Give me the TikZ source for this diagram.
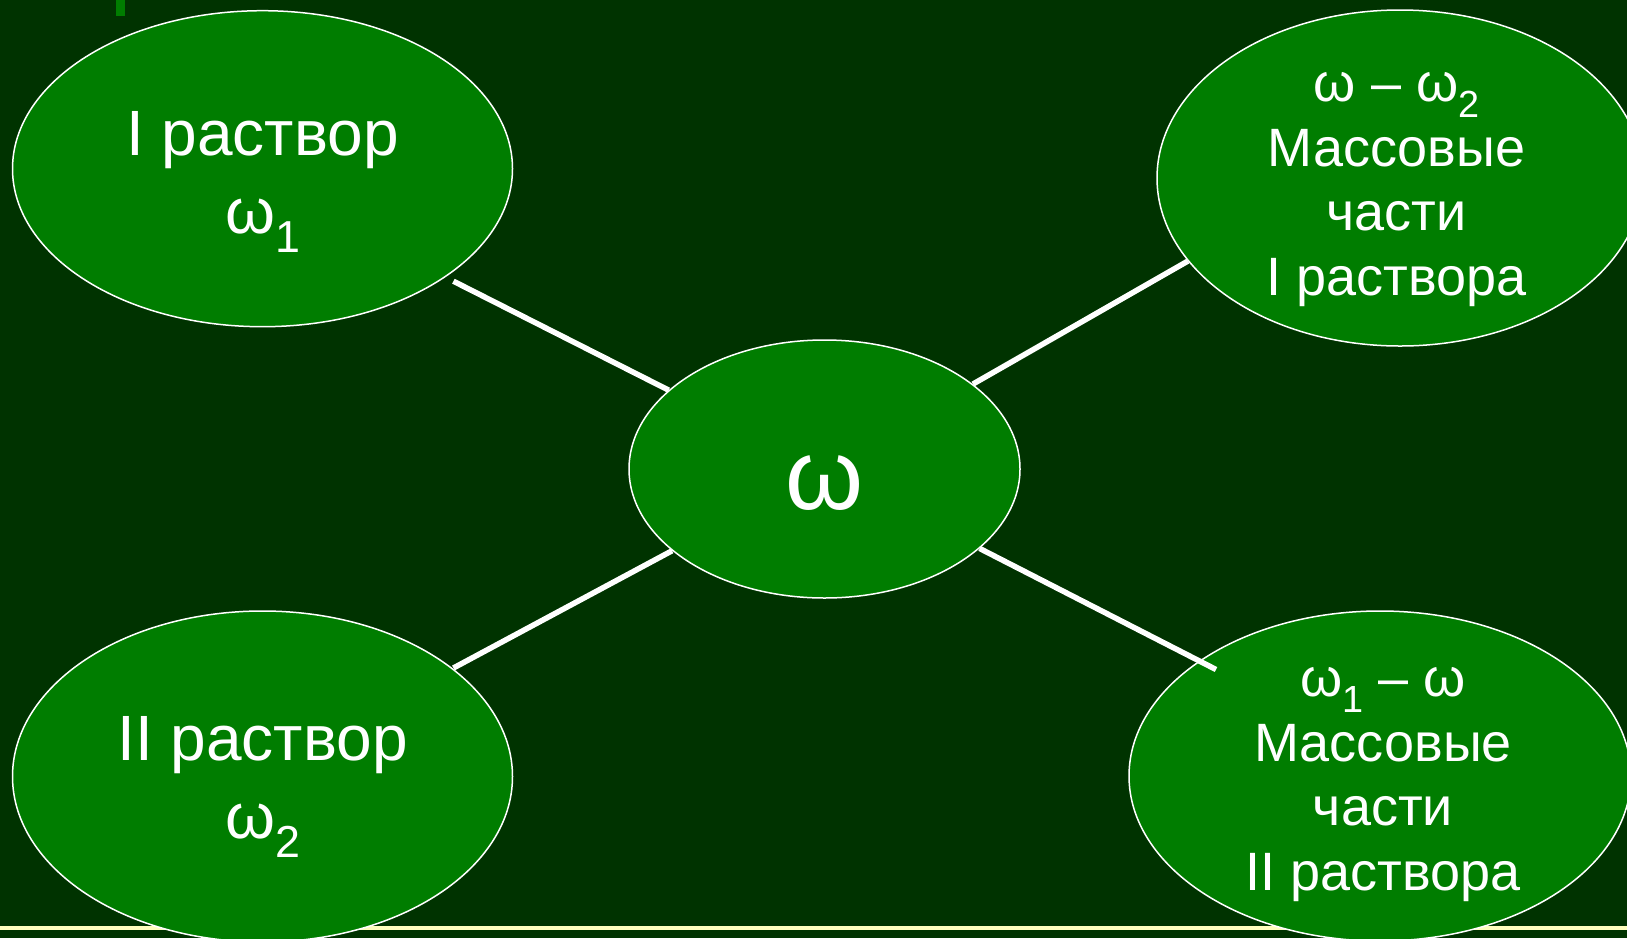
\documentclass[tikz,border=0pt]{standalone}
\usepackage{fontspec}
\setmainfont{Liberation Sans}
\usetikzlibrary{shapes.geometric}
\definecolor{board}{RGB}{0,51,0}
\definecolor{leaf}{RGB}{0,125,0}
\definecolor{cream}{RGB}{255,255,190}
% lowered, smaller index after a symbol
\newcommand\lowidx[1]{\raisebox{-0.3em}{\scalebox{0.7}{#1}}}
\begin{document}
\begin{tikzpicture}[x=1pt,y=-1pt,
  bubble/.style={ellipse, draw=white, line width=1.5pt, fill=leaf, inner sep=0pt},
  link/.style={draw=white, line width=5.5pt},
  caption/.style={text=white, align=center, anchor=base, inner sep=0pt},
  bigtxt/.style={caption, font=\fontsize{64}{78}\selectfont},
  smalltxt/.style={caption, font=\fontsize{54}{64.5}\selectfont}]
% slide background and frame
\fill[board] (0,0) rectangle (1627,938);
\useasboundingbox (0,0) rectangle (1627,938);
\fill[leaf] (116,0) rectangle (125,16);
\draw[cream, line width=3.5pt] (0,928) -- (1627,928);

% ellipses
\node[bubble, minimum width=500pt, minimum height=316pt] (tl) at (262.5,168.7) {};
\node[bubble, minimum width=500pt, minimum height=331pt] (bl) at (262.5,776.5) {};
\node[bubble, minimum width=486pt, minimum height=336pt] (tr) at (1400,178) {};
\node[bubble, minimum width=502pt, minimum height=330pt] (br) at (1380,776) {};
\node[bubble, minimum width=391pt, minimum height=258pt] (c) at (824.5,469) {};

% texts (anchored at the baseline of their last line)
\node[caption, font=\fontsize{100}{100}\selectfont] (ct) at (824.5,509) {ω};
\node[bigtxt] (tlt) at (262.5,233.5) {I раствор\\ω\lowidx{1}};
\node[bigtxt] (blt) at (262.5,838) {II раствор\\ω\lowidx{2}};
\node[smalltxt] (trt) at (1396.6,295) {ω – ω\lowidx{2}\\Массовые\\части\\I раствора};
\node[smalltxt] (brt) at (1383,890) {ω\lowidx{1} – ω\\Массовые\\части\\II раствора};

% connectors
\coordinate (tlend) at (453.4,281.2);
\coordinate (trend) at (1188,261);
\coordinate (blend) at (453.4,668);
\coordinate (brend) at (1216,669.5);
\draw[link] (c) -- (tlend);
\draw[link] (c) -- (trend);
\draw[link] (c) -- (blend);
\draw[link] (c) -- (brend);
\end{tikzpicture}
\end{document}
